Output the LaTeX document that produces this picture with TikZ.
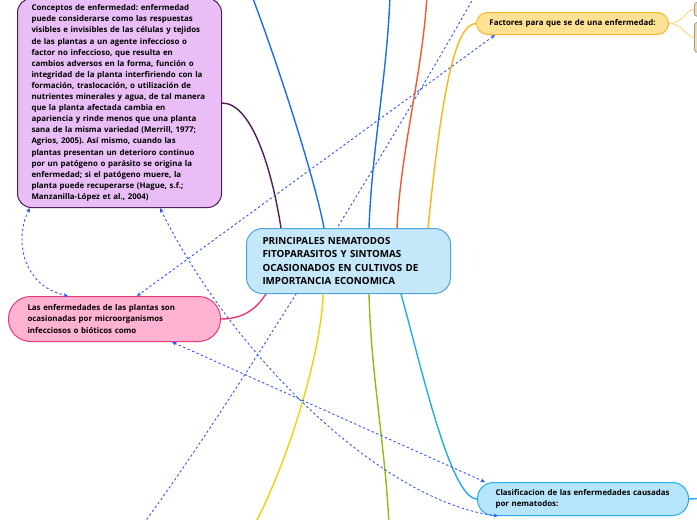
\documentclass[tikz,border=0pt]{standalone}
\usepackage{fontspec}
\setmainfont{Open Sans}
\frenchspacing
\usetikzlibrary{arrows.meta,calc}
\definecolor{Lilac}{HTML}{E9BEF6}
\definecolor{Plum}{HTML}{521D58}
\definecolor{SkyFill}{HTML}{C4E8FA}
\definecolor{SkyLine}{HTML}{4FA3DB}
\definecolor{Rose}{HTML}{FFB2D1}
\definecolor{RoseLine}{HTML}{E8397D}
\definecolor{Honey}{HTML}{FFE193}
\definecolor{HoneyLine}{HTML}{F8B733}
\definecolor{Aqua}{HTML}{B5E5FA}
\definecolor{AquaLine}{HTML}{25ABE9}
\definecolor{Royal}{HTML}{1C6FE3}
\definecolor{Flame}{HTML}{F4582C}
\definecolor{Amber}{HTML}{FDB417}
\definecolor{Lemon}{HTML}{EFD30A}
\definecolor{Lime}{HTML}{8CBE14}
\definecolor{Link}{HTML}{3456F7}
\definecolor{Sand}{HTML}{F6DDB0}
\definecolor{Stone}{HTML}{A3978A}

\begin{document}
\begin{tikzpicture}[x=1pt,y=-1pt,
    topic/.style={draw,line width=1pt,rounded corners=#1,align=left,inner ysep=0pt,
      anchor=north west,font=\fontsize{7.9}{11.1}\selectfont\bfseries},
    branch/.style={line width=1.4pt},
    relation/.style={Link,line width=0.9pt,dash pattern=on 2.4pt off 2.4pt},
    twoway/.style={{Stealth[length=4.5pt,width=4pt]}-{Stealth[length=4.5pt,width=4pt]}}]
  \useasboundingbox (0,0) rectangle (697,520);
  \clip (0,0) rectangle (697,520);
  \fill[white] (0,0) rectangle (697,520);

  \coordinate (d1) at (474,-3);
  \coordinate (d2) at (144,523);
  \draw[relation] (d1) .. controls (405,120) and (235,400) .. (d2);

  \node[topic=14pt,fill=Lilac,draw=Plum,text width=176pt,inner xsep=14pt,minimum height=209pt] (conc) at (17,-2)
    {Conceptos de enfermedad: enfermedad\\
     puede considerarse como las respuestas\\
     visibles e invisibles de las células y tejidos\\
     de las plantas a un agente infeccioso o\\
     factor no infeccioso, que resulta en\\
     cambios adversos en la forma, función o\\
     integridad de la planta interfiriendo con la\\
     formación, traslocación, o utilización de\\
     nutrientes minerales y agua, de tal manera\\
     que la planta afectada cambia en\\
     apariencia y rinde menos que una planta\\
     sana de la misma variedad (Merrill, 1977;\\
     Agrios, 2005). Así mismo, cuando las\\
     plantas presentan un deterioro continuo\\
     por un patógeno o parásito se origina la\\
     enfermedad; si el patógeno muere, la\\
     planta puede recuperarse (Hague, s.f.;\\
     Manzanilla-López et al., 2004)};
  \node[topic=16pt,fill=SkyFill,draw=SkyLine,text width=172pt,inner xsep=16pt,minimum height=65pt,
    font=\fontsize{9.8}{13.4}\selectfont\bfseries] (ctr) at (246,228)
    {PRINCIPALES NEMATODOS\\
     FITOPARASITOS Y SINTOMAS\\
     OCASIONADOS EN CULTIVOS DE\\
     IMPORTANCIA ECONOMICA};
  \node[topic=22pt,fill=Rose,draw=RoseLine,text width=174pt,inner xsep=19pt,minimum height=45pt] (pink) at (8,296)
    {Las enfermedades de las plantas son\\
     ocasionadas por microorganismos\\
     infecciosos o bióticos como};
  \node[topic=11pt,fill=Honey,draw=HoneyLine,text width=176pt,inner xsep=8pt,minimum height=22pt,align=center] (fac) at (476,12)
    {Factores para que se de una enfermedad:};
  \node[topic=16pt,fill=Aqua,draw=AquaLine,text width=175pt,inner xsep=18pt,minimum height=33pt] (clas) at (477,482)
    {Clasificacion de las enfermedades causadas\\
     por nematodos:};
  \node[draw=Stone,fill=Sand,rounded corners=3pt,line width=0.8pt,anchor=north west,
    minimum width=30pt,minimum height=14pt] (fac1) at (694,2) {};
  \node[draw=Stone,fill=Sand,rounded corners=3pt,line width=0.8pt,anchor=north west,
    minimum width=30pt,minimum height=30pt] (fac2) at (694,22) {};

  \coordinate (t1) at (252,-4);
  \coordinate (t2) at (390,-4);
  \coordinate (t3) at (427,-4);
  \coordinate (t4) at (255,524);
  \coordinate (t5) at (389,524);
  \coordinate (t6) at (702,498.5);

  \draw[branch,Plum] (conc.east) .. controls +(30,0) and +(-9,-58) .. ($(ctr.north west)+(35,0)$);
  \draw[branch,Royal] ($(ctr.north west)+(78,0)$) .. controls +(-9,-48) and +(28,74) .. (t1);
  \draw[branch,Royal] ($(ctr.north west)+(123,0)$) .. controls +(3,-80) and +(-3,80) .. (t2);
  \draw[branch,Flame] ($(ctr.north west)+(151,0)$) .. controls +(4,-80) and +(-5,80) .. (t3);
  \draw[branch,Amber] (fac.west) .. controls +(-22,0) and +(13,-128) .. ($(ctr.north east)+(-23,0)$);
  \draw[branch,RoseLine] (pink.east) .. controls +(25,0) and +(-8,12) .. ($(ctr.south west)+(20,0)$);
  \draw[branch,Lemon] ($(ctr.south west)+(77,0)$) .. controls +(0,40) and +(43,-84) .. (t4);
  \draw[branch,Lime] ($(ctr.south west)+(123,0)$) .. controls +(2,80) and +(-4,-80) .. (t5);
  \draw[branch,AquaLine] ($(ctr.south west)+(155,0)$) .. controls +(19,67) and +(-27,0) .. (clas.west);
  \draw[branch,AquaLine] (clas.east) -- (t6);
  \draw[HoneyLine!60,line width=0.9pt] (fac.east) .. controls +(14,0) and +(-8,0) .. (fac1.west);
  \draw[HoneyLine!60,line width=0.9pt] (fac.east) .. controls +(14,0) and +(-8,0) .. (fac2.west);

  \draw[relation,twoway] ($(conc.south west)+(13,0)$) .. controls +(-15,28) and +(-48,-11) .. ($(pink.north west)+(60,0)$);
  \draw[relation,twoway] ($(conc.south west)+(143,0)$) .. controls +(70,143) and +(-118,-15) .. ($(clas.south west)+(21,0)$);
  \draw[relation,twoway] ($(pink.south west)+(164,0)$) -- ($(clas.north west)+(8,0)$);
  \draw[relation,twoway] ($(fac.south west)+(19,0)$) -- ($(pink.north west)+(129,0)$);
\end{tikzpicture}
\end{document}
